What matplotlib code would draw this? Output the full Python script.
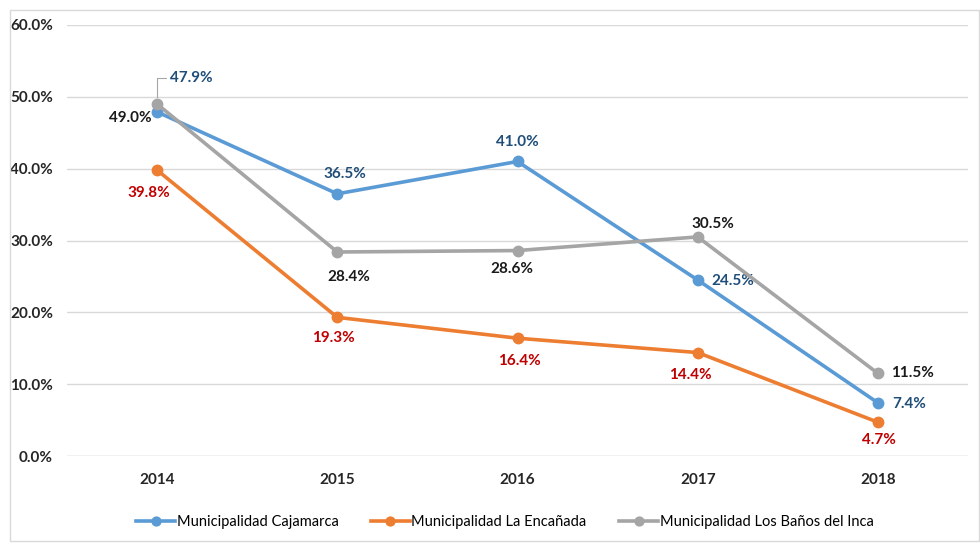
import numpy as np
import matplotlib.pyplot as plt
from matplotlib.patches import Rectangle

plt.rcParams['font.family'] = ['Lato', 'DejaVu Sans']

#---------------data-------------#
years = ['2014', '2015', '2016', '2017', '2018']
cajamarca = [47.9, 36.5, 41.0, 24.5, 7.4]
encanada = [39.8, 19.3, 16.4, 14.4, 4.7]
banos = [49.0, 28.4, 28.6, 30.5, 11.5]
series_names = ['Municipalidad Cajamarca', 'Municipalidad La Encañada',
                'Municipalidad Los Baños del Inca']

# label offsets in pixels (dx, dy) for each point
off_caj = [(34, 34), (8, 20), (0, 19), (35, -1), (31, -1)]
off_enc = [(-8, -23), (-4, -21), (2, -23), (-7, -22), (1, -18)]
off_ban = [(-27, -14), (12, -25), (-6, -18), (15, 13), (35, 0)]

fig = plt.figure(figsize=(9.8, 5.43), dpi=100)
fig.patches.append(Rectangle((10/980, 2/543), 969/980, 531/543, transform=fig.transFigure,
                             fill=False, edgecolor='#D9D9D9', linewidth=1))
ax = fig.add_axes([67/980, 87/543, 901/980, 431/543])

x = np.arange(len(years))
series = [(cajamarca, '#5B9BD5', '#1F4E79', off_caj),
          (encanada, '#ED7D31', '#C00000', off_enc),
          (banos, '#A5A5A5', '#1A1A1A', off_ban)]

for (vals, col, lcol, offs), name in zip(series, series_names):
    ax.plot(x, vals, color=col, linewidth=2.6, marker='o', markersize=7.5, label=name, zorder=3)
    for xi, v, (dx, dy) in zip(x, vals, offs):
        ax.annotate('{:.1f}%'.format(v), (xi, v), xytext=(dx, dy), textcoords='offset pixels',
                    ha='center', va='center', fontsize=11, fontweight='bold', color=lcol)

# leader line for 47.9%
ax.annotate('', (0, 49.0), xytext=(9, 26), textcoords='offset pixels',
            arrowprops=dict(arrowstyle='-', color='#A5A5A5', lw=0.8,
                            connectionstyle='angle,angleA=0,angleB=90,rad=0',
                            shrinkA=0, shrinkB=5))

ax.set_xlim(-0.5, 4.5)
ax.set_ylim(0, 60)
ax.set_yticks(np.arange(0, 61, 10))
ax.set_yticklabels(['{:.1f}%'.format(t) for t in np.arange(0, 61, 10)])
ax.set_xticks(x)
ax.set_xticklabels(years)
ax.grid(axis='y', color='#D9D9D9', linewidth=1)
ax.set_axisbelow(True)
for s in ['top', 'right', 'left', 'bottom']:
    ax.spines[s].set_visible(False)
ax.axhline(0, color='#D9D9D9', linewidth=1, zorder=1)
ax.tick_params(length=0, labelsize=11)
ax.tick_params(axis='y', pad=10)
ax.tick_params(axis='x', pad=12)
for lab in ax.get_xticklabels() + ax.get_yticklabels():
    lab.set_fontweight('bold')
    lab.set_color('#262626')

fig.legend(loc='center', bbox_to_anchor=(0.515, 21/543), ncol=3, frameon=False,
           fontsize=10.5, handlelength=2.7, columnspacing=2.2, handletextpad=0.1,
           markerscale=0.85)

plt.savefig('out.png', dpi=100)
